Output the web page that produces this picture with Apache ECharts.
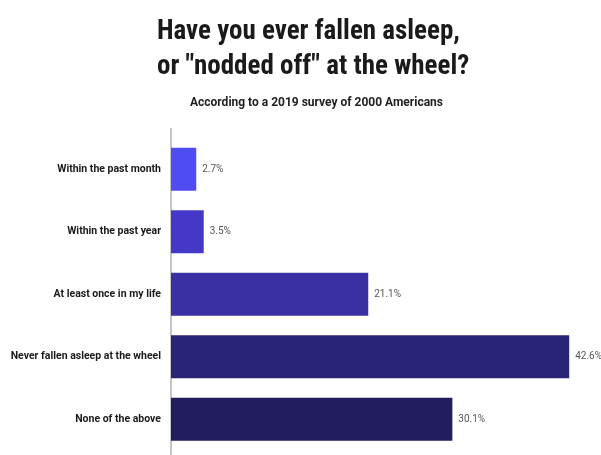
<!DOCTYPE html>
<html>
<head>
<meta charset="utf-8">
<script src="https://cdn.jsdelivr.net/npm/echarts@6/dist/echarts.min.js"></script>
<style>
html,body{margin:0;padding:0;background:#fff;}
#c{width:601px;height:455px;}
</style>
</head>
<body>
<div id="c"></div>
<script>
const categories = ["Within the past month", "Within the past year", "At least once in my life", "Never fallen asleep at the wheel", "None of the above"];
const values = [2.7, 3.5, 21.1, 42.6, 30.1];
const valueLabels = ["2.7%", "3.5%", "21.1%", "42.6%", "30.1%"];
const barColors = ["#4f4cf2", "#4438c9", "#3a30a4", "#2a2476", "#221d5c"];

const NARROW = '"Liberation Sans Narrow", "Roboto Condensed", "Arial Narrow", Roboto, sans-serif';

const chart = echarts.init(document.getElementById('c'), null, {renderer: 'canvas'});
chart.setOption({
  backgroundColor: '#ffffff',
  animation: false,
  title: [
    {
      text: 'Have you ever fallen asleep,\nor "nodded off" at the wheel?',
      left: 152, top: 10, textAlign: 'left',
      textStyle: {fontFamily: NARROW, fontWeight: 'bold', fontSize: 27, lineHeight: 35, color: '#1a1a1a'}
    },
    {
      text: 'According to a 2019 survey of 2000 Americans',
      left: 185, top: 92,
      textStyle: {fontFamily: 'Roboto, sans-serif', fontWeight: 'bold', fontSize: 12, color: '#222'}
    }
  ],
  grid: {left: 171, right: 0, top: 138, height: 312.5, containLabel: false},
  xAxis: {
    type: 'value', min: 0, max: 46, show: false
  },
  yAxis: {
    type: 'category', data: categories, inverse: true,
    axisLine: {show: false},
    axisTick: {show: false},
    axisLabel: {margin: 10, fontFamily: 'Roboto, sans-serif', fontWeight: 'bold', fontSize: 10.5, color: '#1a1a1a'}
  },
  graphic: [{
    type: 'line', shape: {x1: 171, y1: 128, x2: 171, y2: 455},
    style: {stroke: '#8a8a8a', lineWidth: 1}
  }],
  series: [{
    type: 'bar',
    barWidth: 43,
    data: values.map((v, i) => ({value: v, itemStyle: {color: barColors[i]}})),
    label: {
      show: true, position: 'right', distance: 6,
      formatter: p => valueLabels[p.dataIndex],
      fontFamily: 'Roboto, sans-serif', fontSize: 10, color: '#555'
    }
  }]
});
</script>
</body>
</html>
